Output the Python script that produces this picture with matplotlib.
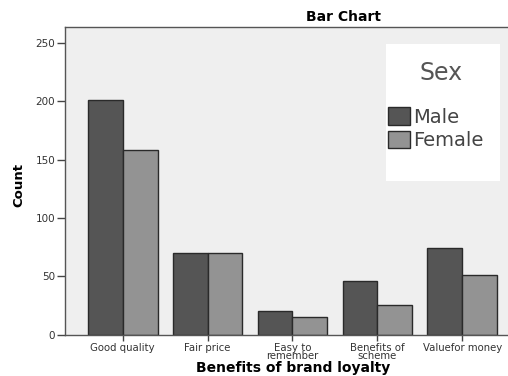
import numpy as np
import matplotlib
matplotlib.use('Agg')
import matplotlib.pyplot as plt
from matplotlib.patches import Patch, Rectangle

categories = ['Good quality', 'Fair price', 'Easy to\nremember',
              'Benefits of\nscheme', 'Valuefor money']
male = [201, 70, 20, 46, 74]
female = [158, 70, 15, 25, 51]
yticks = [0, 50, 100, 150, 200, 250]

male_col = '#555555'
female_col = '#939393'

fig = plt.figure(figsize=(5.08, 3.76), dpi=100)
ax = fig.add_axes([0.128, 0.110, 0.872, 0.818])
ax.set_facecolor('#efefef')

x = np.arange(len(categories))
w = 0.41
ax.bar(x - w/2, male, w, color=male_col, edgecolor='#2a2a2a', linewidth=1.0)
ax.bar(x + w/2, female, w, color=female_col, edgecolor='#2a2a2a', linewidth=1.0)

ax.set_xlim(-0.68, 4.54)
ax.set_ylim(0, 263.5)
ax.set_yticks(yticks)
ax.set_yticklabels([str(v) for v in yticks], fontsize=7.5, color='#333333')
ax.set_xticks(x)
ax.set_xticklabels(categories, fontsize=7.3, color='#333333', linespacing=0.75)
ax.tick_params(axis='y', direction='out', length=6, width=1, color='#444444', pad=1)
ax.tick_params(axis='x', direction='out', length=4, width=1, color='#444444', pad=2)

for s in ['left', 'top', 'bottom']:
    ax.spines[s].set_color('#555555')
    ax.spines[s].set_linewidth(1.0)
ax.spines['right'].set_visible(False)

fig.text(0.038, 0.508, 'Count', rotation=90, ha='center', va='center',
         fontsize=9.5, fontweight='bold')
fig.text(0.577, 0.003, 'Benefits of brand loyalty', ha='center', va='bottom',
         fontsize=10, fontweight='bold')
fig.text(0.677, 0.955, 'Bar Chart', ha='center', va='center',
         fontsize=10, fontweight='bold')

# white legend panel
ax.add_patch(Rectangle((0.7246, 0.4995), 0.2574, 0.4453, transform=ax.transAxes,
                       facecolor='white', edgecolor='none', zorder=3))
ax.text(0.848, 0.8505, 'Sex', transform=ax.transAxes, ha='center', va='center',
        fontsize=17, color='#555555', zorder=5)
handles = [Patch(facecolor=male_col, edgecolor='#2a2a2a', label='Male'),
           Patch(facecolor=female_col, edgecolor='#2a2a2a', label='Female')]
leg = ax.legend(handles=handles, loc='center left',
                bbox_to_anchor=(0.729, 0.670), fontsize=14,
                frameon=False, handlelength=1.13, handleheight=1.03,
                handletextpad=0.15, borderpad=0, labelspacing=0.2,
                borderaxespad=0)
leg.set_zorder(4)
for t in leg.get_texts():
    t.set_color('#444444')

fig.savefig('out.png', dpi=100)
